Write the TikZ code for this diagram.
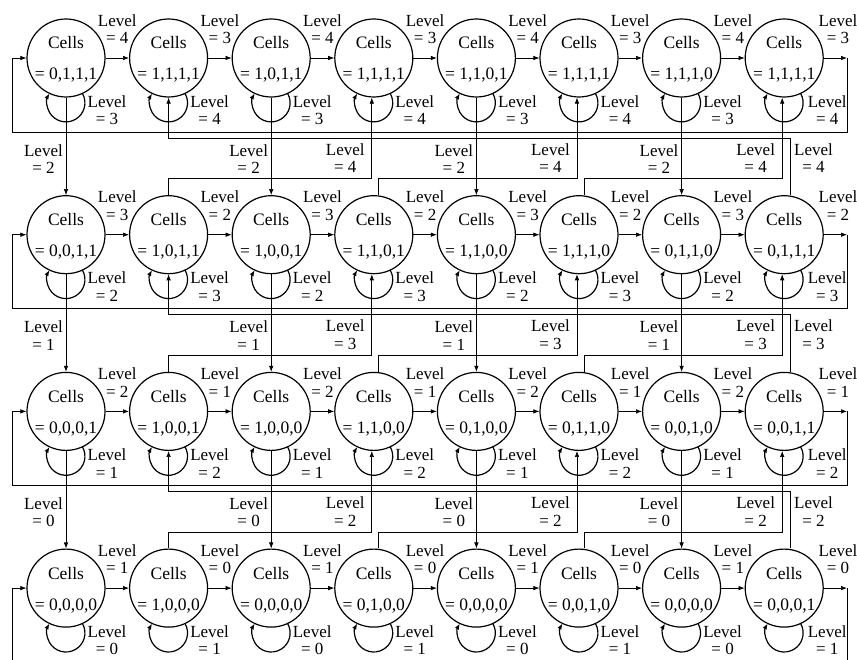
\documentclass[tikz,border=0pt]{standalone}
\usepackage{fontspec}
\setmainfont{Liberation Serif}
\usetikzlibrary{arrows.meta}
\newcommand\mkrow[9]{%
  \foreach \c/\v in {1/{#2},2/{#3},3/{#4},4/{#5},5/{#6},6/{#7},7/{#8},8/{#9}}{%
    \pgfmathsetmacro\x{66+102.6*(\c-1)}%
    \pgfmathsetmacro\y{601-176.7*(#1-1)}%
    \node[state] (n-#1-\c) at (\x,\y) {};
    \node[txt] at (\x,\y+9) {Cells};
    \node[txt] at (\x,\y-22) {= \v};
  }}
\newcommand\rowconn[3]{%
  \pgfmathsetmacro\y{601-176.7*(#1-1)}%
  \foreach \c in {1,...,8}{%
    \pgfmathsetmacro\x{66+102.6*(\c-1)}%
    \pgfmathtruncatemacro\odd{mod(\c,2)}%
    \pgfmathtruncatemacro\cn{\c+1}%
    \ifnum\odd=1 \def\hl{#2}\def\ll{#3}\else\def\hl{#3}\def\ll{#2}\fi
    \draw[selfloop] ([shift={(16.4,-35.4)}]n-#1-\c.center) arc[start angle=30, end angle=-210, radius=19];
    \ifnum\c<8
      \draw[arr] (n-#1-\c.east) -- (n-#1-\cn.west);
      \node[lbl] at (\x+51.3,\y+29) {Level\\= \hl};
      \node[lbl] at (\x+41,\y-52) {Level\\= \ll};
    \else
      \coordinate (e-#1) at (847,\y);
      \coordinate (w-#1) at (12,\y-74);
      \draw[arr] (n-#1-8.east) -- (e-#1);
      \draw[arr] (e-#1) |- (w-#1) |- (n-#1-1.west);
      \node[lbl] at (838,\y+29) {Level\\= \hl};
      \node[lbl] at (\x+43,\y-52) {Level\\= \ll};
    \fi
  }}
\newcommand\gapconn[3]{%
  \pgfmathtruncatemacro\rr{#1+1}%
  \pgfmathsetmacro\yu{601-176.7*(#1-1)}%
  \pgfmathsetmacro\yh{\yu-176.7+56}%
  \pgfmathsetmacro\yw{\yu-80}%
  \coordinate (h-#1) at (0,\yh);
  \coordinate (k-#1) at (0,\yw);
  \foreach \c in {1,3,5,7}{%
    \pgfmathsetmacro\x{66+102.6*(\c-1)}%
    \draw[arr] (n-#1-\c.south) -- (n-\rr-\c.north);
    \node[lbl,anchor=east] at (\x-3,\yu-101) {Level\\= #2};
  }
  \foreach \c/\cc/\dx in {2/4/0,4/6/5,6/8/5}{%
    \pgfmathsetmacro\x{66+102.6*(\cc-1)}%
    \coordinate (s) at ([xshift=\dx pt]n-\rr-\c.north);
    \coordinate (t) at ([xshift=-2pt]n-#1-\cc.south);
    \draw[arr] (s) |- (t |- h-#1) -- (t);
    \node[lbl,anchor=east] at (\x-9,\yu-100) {Level\\= #3};
  }
  \coordinate (s) at ([xshift=6pt]n-\rr-8.north);
  \draw[arr] (s) |- (n-#1-2.south |- k-#1) -- (n-#1-2.south);
  \node[lbl,anchor=west] at (794,\yu-100) {Level\\= #3};
}
\begin{document}
\begin{tikzpicture}[x=1pt,y=1pt,
  state/.style={circle, draw, line width=1.2pt, minimum size=78pt, inner sep=0pt},
  lbl/.style={font=\fontsize{17}{17.5}\selectfont, align=center, inner sep=0pt},
  txt/.style={font=\fontsize{17.5}{18}\selectfont, inner sep=0pt, anchor=base},
  conn/.style={line width=0.65pt},
  arr/.style={conn, -{Latex[length=6pt,width=4.5pt]}},
  selfloop/.style={line width=1.2pt, -{Latex[length=6pt,width=4.5pt]}},
]
\useasboundingbox (0,0) rectangle (857,659);
\clip (0,0) rectangle (857,659);
\mkrow{1}{0,1,1,1}{1,1,1,1}{1,0,1,1}{1,1,1,1}{1,1,0,1}{1,1,1,1}{1,1,1,0}{1,1,1,1}
\mkrow{2}{0,0,1,1}{1,0,1,1}{1,0,0,1}{1,1,0,1}{1,1,0,0}{1,1,1,0}{0,1,1,0}{0,1,1,1}
\mkrow{3}{0,0,0,1}{1,0,0,1}{1,0,0,0}{1,1,0,0}{0,1,0,0}{0,1,1,0}{0,0,1,0}{0,0,1,1}
\mkrow{4}{0,0,0,0}{1,0,0,0}{0,0,0,0}{0,1,0,0}{0,0,0,0}{0,0,1,0}{0,0,0,0}{0,0,0,1}
\rowconn{1}{4}{3}
\rowconn{2}{3}{2}
\rowconn{3}{2}{1}
\rowconn{4}{1}{0}
\gapconn{1}{2}{4}
\gapconn{2}{1}{3}
\gapconn{3}{0}{2}
\end{tikzpicture}
\end{document}
